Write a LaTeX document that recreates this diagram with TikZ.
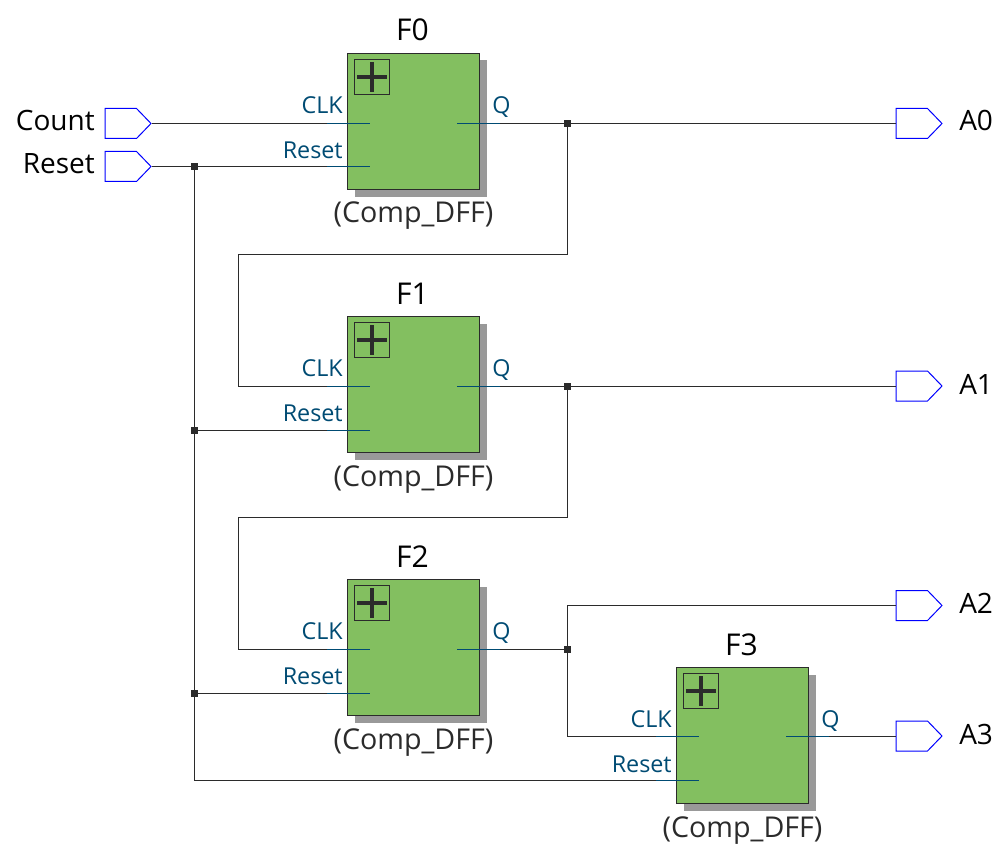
\documentclass[tikz,border=0pt]{standalone}
\usepackage{fontspec}
\setmainfont{Open Sans}
\usetikzlibrary{shadows,shapes.symbols,calc}
\definecolor{wirecol}{HTML}{2B2B2B}
\definecolor{pincol}{HTML}{004B73}
\definecolor{blockcol}{HTML}{83BF60}
\definecolor{shadecol}{HTML}{999999}
\tikzset{
  wire/.style={draw=wirecol,line width=0.75pt},
  pin/.style={draw=pincol,line width=0.75pt},
  block/.style={draw=wirecol,fill=blockcol,line width=0.9pt,minimum width=99pt,minimum height=102pt,inner sep=0pt,
    drop shadow={shadow xshift=5.25pt,shadow yshift=-5.25pt,opacity=1,fill=shadecol}},
  plusbox/.style={draw=wirecol,line width=0.75pt,minimum size=26pt,inner sep=0pt},
  port/.style={signal,signal to=east,signal pointer angle=92,draw=blue,line width=0.75pt,minimum width=34.5pt,minimum height=22.5pt,inner sep=0pt},
  dot/.style={fill=wirecol,minimum size=5.25pt,inner sep=0pt},
  bigtext/.style={font=\fontsize{21}{25}\selectfont,text=black,inner sep=0pt},
  nametext/.style={font=\fontsize{22.5}{26}\selectfont,text=black,inner sep=0pt},
  pintext/.style={font=\fontsize{17.5}{20}\selectfont,text=pincol,inner sep=0pt},
  typetext/.style={font=\fontsize{21.5}{25}\selectfont,text=wirecol,inner sep=0pt}
}
\begin{document}
\begin{tikzpicture}[x=0.75pt,y=-0.75pt]
  \useasboundingbox (0,0) rectangle (1008,856);

  % blocks
  \foreach \n/\t/\x/\y/\c/\r in {f0/F0/413.5/121.5/2/45,f1/F1/413.5/384.5/1.5/45.5,f2/F2/413.5/647.5/1.8/45.8,f3/F3/742.5/735.5/0.5/44.8} {
    \node[block] (\n) at (\x,\y) {};
    \node[plusbox] (\n-plus) at ($(\n)+(-41.5,-44.5)$) {};
    \draw[wirecol,line width=3pt] ($(\n-plus)+(-15,0)$) -- ($(\n-plus)+(15,0)$);
    \draw[wirecol,line width=3pt] ($(\n-plus)+(0,-15)$) -- ($(\n-plus)+(0,15)$);
    \node[nametext,anchor=base] (\n-name) at ($(\n)+(-1,-80.5)$) {\t};
    \node[typetext,anchor=base] (\n-type) at ($(\n)+(0,101.5)$) {(Comp\_DFF)};
    \node[pintext,anchor=base east] (\n-clktext) at ($(\n)+(-70.5,-8)$) {CLK};
    \node[pintext,anchor=base east] (\n-rsttext) at ($(\n)+(-70.5,36.5)$) {Reset};
    \node[pintext,anchor=base west] (\n-qtext) at ($(\n)+(78.5,-8)$) {Q};
    \coordinate (\n-clk) at ($(\n)+(-43.5,\c)$);
    \coordinate (\n-rst) at ($(\n)+(-43.5,\r)$);
    \coordinate (\n-q) at ($(\n)+(43.5,\c)$);
  }

  % ports
  \node[port,anchor=west] (count) at (104.5,123.5) {};
  \node[port,anchor=west] (reset) at (104.5,166.5) {};
  \node[port,anchor=west] (a0) at (895.5,123.5) {};
  \node[port,anchor=west] (a1) at (895.5,386) {};
  \node[port,anchor=west] (a2) at (895.5,605.5) {};
  \node[port,anchor=west] (a3) at (895.5,736) {};
  \node[bigtext,anchor=base east] (counttext) at (95,131) {Count};
  \node[bigtext,anchor=base east] (resettext) at (95,174) {Reset};
  \node[bigtext,anchor=base west] (a0text) at (959,131) {A0};
  \node[bigtext,anchor=base west] (a1text) at (959,394) {A1};
  \node[bigtext,anchor=base west] (a2text) at (959,613) {A2};
  \node[bigtext,anchor=base west] (a3text) at (959,744) {A3};

  % junctions and bends
  \node[dot] (j0) at (567.5,123.5) {};
  \node[dot] (j1) at (567.5,386) {};
  \node[dot] (j2) at (567.5,649.3) {};
  \node[dot] (r0) at (194,166.5) {};
  \node[dot] (r1) at (194,430) {};
  \node[dot] (r2) at (194,693.3) {};
  \coordinate (b0) at (238.5,254.5);
  \coordinate (b1) at (238.5,517.5);

  % nets
  \draw[wire] (count.east) -- (f0-clk);
  \draw[wire] (reset.east) -- (f0-rst);
  \draw[wire] (f0-q) -- (a0.west);
  \draw[wire] (f1-q) -- (a1.west);
  \draw[wire] (f2-q) -- (j2.center);
  \draw[wire] (f3-q) -- (a3.west);
  \draw[wire] (j0.center) |- (b0) |- (f1-clk);
  \draw[wire] (j1.center) |- (b1) |- (f2-clk);
  \draw[wire] (j2.center) |- (a2.west);
  \draw[wire] (j2.center) |- (f3-clk);
  \draw[wire] (r0.center) |- (f3-rst);
  \draw[wire] (r1.center) -- (f1-rst);
  \draw[wire] (r2.center) -- (f2-rst);

  % pin stubs
  \foreach \n in {f0,f1,f2,f3} {
    \draw[pin] ($(\n-clk)+(-43,0)$) -- (\n-clk);
    \draw[pin] ($(\n-rst)+(-43,0)$) -- (\n-rst);
    \draw[pin] (\n-q) -- ($(\n-q)+(43,0)$);
  }
\end{tikzpicture}
\end{document}
